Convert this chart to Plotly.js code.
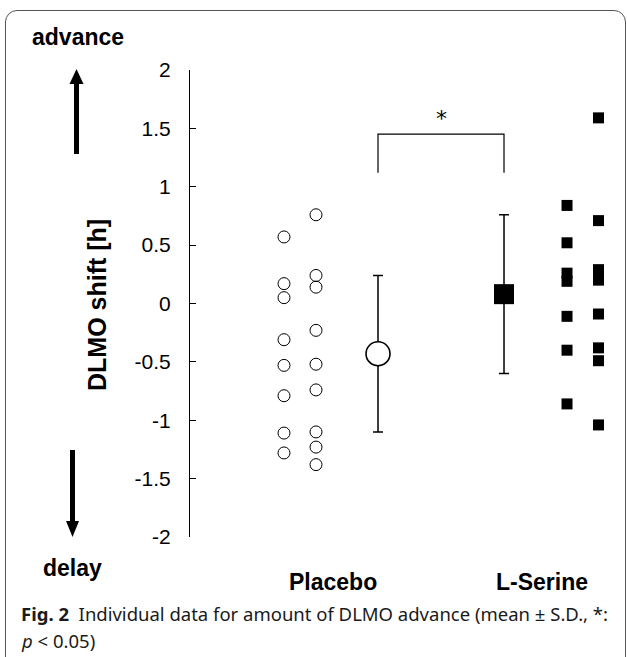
<!DOCTYPE html>
<html>
<head>
<meta charset="utf-8">
<script src="https://cdn.plot.ly/plotly-3.0.1.min.js"></script>
<style>
html,body{margin:0;padding:0;background:#fff;}
#wrap{position:relative;width:627px;height:657px;overflow:hidden;}
#frame{position:absolute;left:5px;top:10px;width:621px;height:660px;border:1px solid #555;border-radius:12px;box-sizing:border-box;}
#chart{position:absolute;left:0;top:0;width:627px;height:657px;}
</style>
</head>
<body>
<div id="wrap"><div id="frame"></div><div id="chart"></div></div>
<script>
// ---- data (DLMO shift, hours) ----
const placeboColA = [0.57, 0.17, 0.05, -0.31, -0.53, -0.79, -1.11, -1.28];
const placeboColB = [0.76, 0.24, 0.14, -0.23, -0.52, -0.74, -1.10, -1.23, -1.38];
const serineColA  = [0.84, 0.52, 0.26, 0.19, -0.11, -0.40, -0.86];
const serineColB  = [1.59, 0.71, 0.29, 0.20, -0.09, -0.38, -0.49, -1.04];
const meanValues  = [-0.43, 0.08];
const sdValues    = [0.67, 0.68];
const groupLabels = ['Placebo', 'L-Serine'];
const yTickVals   = [2, 1.5, 1, 0.5, 0, -0.5, -1, -1.5, -2];
const yTickText   = ['2', '1.5', '1', '0.5', '0', '-0.5', '-1', '-1.5', '-2'];
const bracket     = {low: 1.12, high: 1.45, label: '*'};

// ---- layout positions (x in axis units) ----
const xPos = {pA: 0.254, pB: 0.508, meanP: 1, meanS: 2, sA: 2.5, sB: 2.75, labP: 0.643, labS: 2.30};
const M = {l: 190, r: 0, t: 70, b: 120};
const W = 627, H = 657;
const pw = W - M.l - M.r, ph = H - M.t - M.b;
const px = x => (x - M.l) / pw;
const py = y => (H - M.b - y) / ph;

const ARIAL = 'Liberation Sans, Arial, sans-serif';
const black = '#000';

function col(vals, x) { return vals.map(() => x); }

const traces = [
  {x: col(placeboColA, xPos.pA), y: placeboColA, mode: 'markers', type: 'scatter',
   marker: {symbol: 'circle-open', size: 12, color: black, line: {width: 1, color: black}}},
  {x: col(placeboColB, xPos.pB), y: placeboColB, mode: 'markers', type: 'scatter',
   marker: {symbol: 'circle-open', size: 12, color: black, line: {width: 1, color: black}}},
  {x: col(serineColA, xPos.sA), y: serineColA, mode: 'markers', type: 'scatter',
   marker: {symbol: 'square', size: 11, color: black, line: {width: 0}}},
  {x: col(serineColB, xPos.sB), y: serineColB, mode: 'markers', type: 'scatter',
   marker: {symbol: 'square', size: 11, color: black, line: {width: 0}}},
  {x: [xPos.meanP], y: [meanValues[0]], mode: 'markers', type: 'scatter',
   error_y: {type: 'data', array: [sdValues[0]], color: black, thickness: 1.5, width: 5},
   marker: {symbol: 'circle', size: 24, color: '#fff', line: {width: 1.6, color: black}}},
  {x: [xPos.meanS], y: [meanValues[1]], mode: 'markers', type: 'scatter',
   error_y: {type: 'data', array: [sdValues[1]], color: black, thickness: 1.5, width: 5},
   marker: {symbol: 'square', size: 20, color: black, line: {width: 0}}}
];

const bold = (t, s, x, y, xref, extra) => Object.assign({
  text: '<b>' + t + '</b>', x: x, y: y, xref: xref || 'paper', yref: 'paper',
  showarrow: false, xanchor: 'center', yanchor: 'middle',
  font: {family: ARIAL, size: s, color: black}
}, extra || {});

const CAP = 'Noto Sans, Open Sans, sans-serif';
const annotations = [
  bold('advance', 23, px(78), py(37)),
  bold('delay', 23, px(73), py(568)),
  bold(groupLabels[0], 23, xPos.labP, py(582), 'x'),
  bold(groupLabels[1], 23, xPos.labS, py(582), 'x'),
  bold('DLMO shift [h]', 25, px(97), py(305), 'paper', {textangle: -90}),
  {text: bracket.label, x: (xPos.meanP + xPos.meanS) / 2, y: bracket.high + 0.01, xref: 'x', yref: 'y',
   showarrow: false, xanchor: 'center', yanchor: 'bottom',
   font: {family: 'DejaVu Sans, sans-serif', size: 22, color: black}},
  {text: '<b>Fig. 2</b>  Individual data for amount of DLMO advance (mean ± S.D., *:',
   x: px(19), y: py(613), xref: 'paper', yref: 'paper', showarrow: false,
   xanchor: 'left', yanchor: 'middle', align: 'left',
   font: {family: CAP, size: 18.5, color: '#1a1a1a'}},
  {text: '<i>p</i> &lt; 0.05)',
   x: px(19), y: py(640), xref: 'paper', yref: 'paper', showarrow: false,
   xanchor: 'left', yanchor: 'middle', align: 'left',
   font: {family: CAP, size: 18.5, color: '#1a1a1a'}}
];

const shapes = [
  // significance bracket
  {type: 'path', xref: 'x', yref: 'y',
   path: `M ${xPos.meanP} ${bracket.low} L ${xPos.meanP} ${bracket.high} L ${xPos.meanS} ${bracket.high} L ${xPos.meanS} ${bracket.low}`,
   line: {color: black, width: 1.2}},
  // up arrow
  {type: 'line', xref: 'paper', yref: 'paper', x0: px(76.5), x1: px(76.5), y0: py(154), y1: py(80),
   line: {color: black, width: 5}},
  {type: 'path', xref: 'paper', yref: 'paper',
   path: `M ${px(69.5)} ${py(84)} L ${px(83.5)} ${py(84)} L ${px(76.5)} ${py(69)} Z`,
   fillcolor: black, line: {width: 0}},
  // down arrow
  {type: 'line', xref: 'paper', yref: 'paper', x0: px(72.5), x1: px(72.5), y0: py(450), y1: py(525),
   line: {color: black, width: 5}},
  {type: 'path', xref: 'paper', yref: 'paper',
   path: `M ${px(66)} ${py(521)} L ${px(79)} ${py(521)} L ${px(72.5)} ${py(537)} Z`,
   fillcolor: black, line: {width: 0}}
];

const layout = {
  width: W, height: H, margin: M, showlegend: false,
  paper_bgcolor: 'rgba(0,0,0,0)', plot_bgcolor: 'rgba(0,0,0,0)',
  xaxis: {visible: false, range: [-0.492, 2.976], fixedrange: true},
  yaxis: {range: [-2, 2], tickvals: yTickVals, ticktext: yTickText,
          showline: true, linecolor: black, linewidth: 1, mirror: false,
          ticks: 'inside', ticklen: 6, tickcolor: black, tickwidth: 1,
          showgrid: false, zeroline: false, ticklabelstandoff: 14,
          tickfont: {family: ARIAL, size: 21, color: black}},
  annotations: annotations, shapes: shapes
};

Plotly.newPlot('chart', traces, layout, {staticPlot: true, displayModeBar: false});
</script>
</body>
</html>
